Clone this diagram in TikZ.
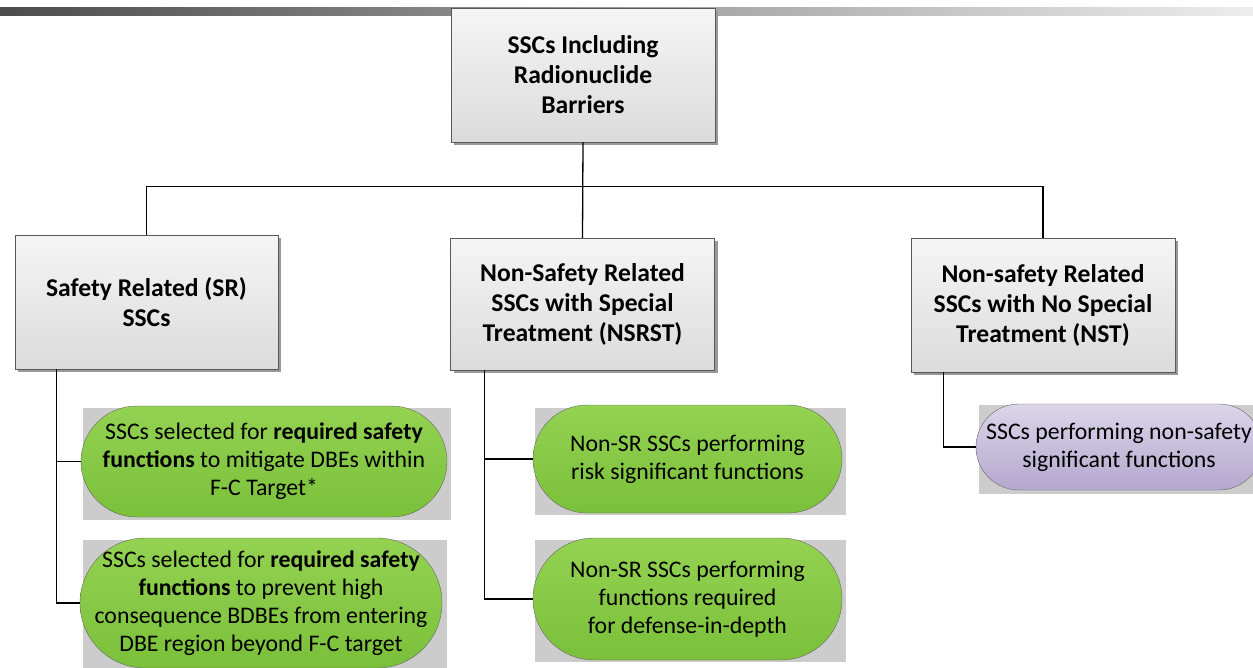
\documentclass[tikz,border=0pt]{standalone}
\usepackage{fontspec}
\setmainfont{Carlito}
\usepackage{xcolor}
\usepackage{tikz}
\usetikzlibrary{shadows}

\definecolor{greentop}{RGB}{148,210,82}
\definecolor{greenbot}{RGB}{122,192,58}
\definecolor{lilactop}{RGB}{220,213,234}
\definecolor{lilacbot}{RGB}{180,168,206}

\begin{document}
\begin{tikzpicture}[x=1pt,y=-1pt,
  catbox/.style={draw=black!65, top color=black!4, bottom color=black!14,
    minimum width=264pt, minimum height=134pt, align=center, inner sep=0pt,
    font=\bfseries\fontsize{25.6}{30}\selectfont,
    drop shadow={shadow xshift=3pt, shadow yshift=-3pt, fill=black!40, opacity=1}},
  pill/.style 2 args={draw=black!60, minimum width=#1, minimum height=#2,
    rounded corners=0.5*#2, align=center, inner sep=0pt,
    font=\fontsize{23.8}{28}\selectfont},
  green/.style={top color=greentop, bottom color=greenbot},
  lilac/.style={top color=lilactop, bottom color=lilacbot},
  wire/.style={draw=black, line width=1.3pt}]
  \useasboundingbox (0,0) rectangle (1253,667);
  \clip (0,0) rectangle (1253,667);

  % --- Header bar ---
  \shade[left color=black!70, right color=black!7] (0,7) rectangle (1253,15);

  % --- Category boxes ---
  \node[catbox] (ssc) at (583,75) {SSCs Including\\Radionuclide\\Barriers};
  \node[catbox, minimum width=263pt] (sr) at (146.5,302) {Safety Related (SR)\\SSCs};
  \node[catbox, minimum height=132pt] (nsrst) at (582.5,304) {Non-Safety Related\\SSCs with Special\\Treatment (NSRST)};
  \node[catbox] (nst) at (1043,305) {Non-safety Related\\SSCs with No Special\\Treatment (NST)};

  % Tree connectors
  \draw[wire] (ssc.south) -- (nsrst.north);
  \draw[wire] (ssc.south) ++(0,44) -| (sr.north);
  \draw[wire] (ssc.south) ++(0,44) -| (nst.north);

  % --- Grey panels behind the ovals ---
  \fill[black!20] (83,408) rectangle (451,520);
  \fill[black!20] (83,540) rectangle (447,670);
  \fill[black!20] (535,408) rectangle (846,515);
  \fill[black!20] (535,540) rectangle (846,662);
  \fill[black!20] (979,405) rectangle (1253,494);

  % --- Function ovals ---
  \node[pill={366pt}{111pt}, green] (sr1) at (264,461.5)
    {SSCs selected for \textbf{required safety}\\\textbf{functions} to mitigate DBEs within\\F-C Target*};
  \node[pill={362pt}{130pt}, green] (sr2) at (261,603)
    {SSCs selected for \textbf{required safety}\\\textbf{functions} to prevent high\\consequence BDBEs from entering\\DBE region beyond F-C target};
  \node[pill={309pt}{108pt}, green] (ns1) at (687.5,459)
    {Non-SR SSCs performing\\risk significant functions};
  \node[pill={309pt}{122pt}, green] (ns2) at (687.5,599)
    {Non-SR SSCs performing\\functions required\\for defense-in-depth};
  \node[pill={286pt}{86pt}, lilac] (nt1) at (1119,447)
    {SSCs performing non-safety\\significant functions};

  % Stems down to the ovals
  \draw[wire] (sr.south west) ++(42,0) |- (sr1.west);
  \draw[wire] (sr.south west) ++(42,0) |- (sr2.west);
  \draw[wire] (nsrst.south west) ++(34,0) |- (ns1.west);
  \draw[wire] (nsrst.south west) ++(34,0) |- (ns2.west);
  \draw[wire] (nst.south west) ++(33,0) |- (nt1.west);
\end{tikzpicture}
\end{document}
